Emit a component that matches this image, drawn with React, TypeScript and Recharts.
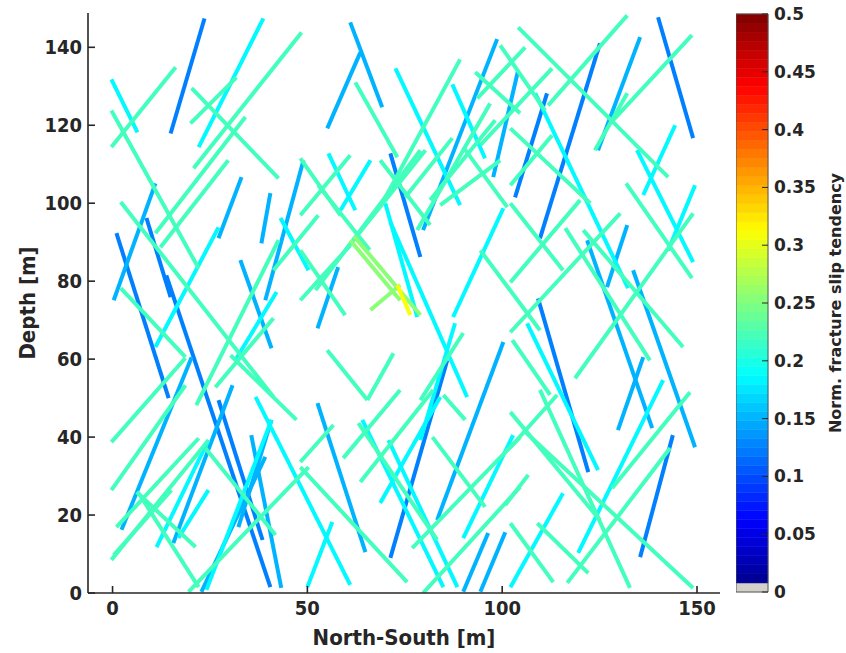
import React from 'react';
import { LineChart, Line, XAxis, YAxis, ComposedChart, ReferenceArea } from 'recharts';

// Fracture traces [x1, y1, x2, y2] in metres (North-South, Depth)
const darkBlueFractures: number[][] = [
  [23.6, 147.4, 14.9, 117.9], [125.1, 141.0, 109.7, 91.0], [111.5, 128.2, 103.3, 101.5],
  [140.0, 147.7, 149.0, 116.7], [8.7, 96.2, 14.9, 75.9], [1.0, 92.3, 14.4, 50.0],
  [13.8, 81.5, 40.5, 1.5], [71.3, 112.8, 79.0, 86.2], [109.2, 75.6, 122.1, 31.0],
  [85.9, 59.7, 71.3, 9.0], [143.8, 40.5, 135.4, 9.2], [27.2, 49.5, 38.5, 13.6],
];
const lightBlueFractures: number[][] = [
  [61.0, 146.4, 69.2, 124.6], [63.6, 138.7, 55.1, 119.2], [98.7, 142.1, 79.7, 93.1],
  [104.1, 134.1, 97.7, 106.7], [135.4, 142.6, 124.6, 113.6], [33.1, 106.7, 27.2, 91.0],
  [11.0, 105.1, 0.3, 75.1], [40.5, 102.6, 38.2, 89.7], [49.0, 111.0, 39.2, 75.1],
  [32.8, 85.4, 40.8, 62.8], [57.9, 83.6, 52.6, 67.9], [100.3, 64.4, 83.3, 18.7],
  [52.6, 48.7, 64.9, 10.5], [90.0, 0.3, 96.4, 15.4], [94.4, 0.3, 100.8, 15.6],
  [121.8, 90.5, 138.5, 42.3], [133.6, 82.8, 149.5, 37.4], [132.1, 94.4, 126.9, 78.5],
  [136.2, 60.5, 129.7, 41.8], [2.3, 16.2, 20.3, 60.5], [15.6, 12.8, 30.8, 53.3],
  [22.8, 0.3, 39.2, 34.9], [35.6, 40.5, 43.3, 1.3], [32.3, 16.9, 40.8, 44.4],
];
const cyanFractures: number[][] = [
  [38.7, 147.4, 22.1, 114.4], [-0.3, 131.8, 6.4, 118.2], [72.6, 134.6, 89.2, 99.5],
  [87.2, 130.5, 95.6, 111.5], [144.4, 120.0, 136.2, 102.1], [134.6, 113.6, 149.0, 84.9],
  [149.5, 104.6, 142.6, 87.9], [108.5, 128.2, 132.3, 78.2], [27.2, 93.8, 11.0, 63.1],
  [43.1, 96.2, 50.3, 82.8], [42.1, 77.2, 31.5, 59.7], [55.4, 112.8, 62.3, 98.2],
  [66.2, 111.0, 58.5, 98.2], [70.0, 100.0, 78.2, 70.8], [71.3, 95.1, 91.0, 50.3],
  [100.3, 98.7, 87.4, 70.8], [87.9, 69.2, 79.0, 39.2], [106.4, 69.2, 124.6, 31.5],
  [141.3, 54.6, 119.5, 10.3], [115.6, 25.6, 102.1, 1.5], [11.3, 11.8, 24.6, 39.2],
  [16.9, 14.1, 24.6, 26.4], [24.1, 0.8, 40.8, 44.4], [36.7, 50.3, 61.0, 2.1],
  [64.1, 44.4, 84.9, 1.5], [70.8, 39.2, 88.5, 1.5], [68.7, 23.1, 84.1, 50.3],
  [90.0, 14.1, 102.8, 40.5], [50.0, 1.5, 56.4, 18.2],
];
const greenFractures: number[][] = [
  [48.5, 143.8, 20.8, 109.0], [16.2, 134.9, -0.3, 114.4], [-0.3, 123.8, 22.1, 83.3],
  [20.3, 129.5, 42.6, 106.4], [20.0, 120.5, 31.8, 132.3], [11.0, 92.3, 34.1, 122.1],
  [12.3, 88.7, 29.7, 111.0], [2.1, 100.3, 41.3, 50.3], [2.1, 78.2, 18.7, 60.5],
  [42.6, 90.5, 21.5, 48.2], [41.3, 70.5, 26.4, 52.8], [41.3, 82.8, 52.8, 96.9],
  [89.2, 136.9, 69.2, 100.0], [104.1, 145.1, 142.6, 106.7], [132.1, 148.2, 111.8, 125.1],
  [148.7, 143.1, 128.5, 121.3], [99.5, 140.5, 111.0, 123.8], [93.1, 133.6, 104.6, 123.1],
  [93.6, 126.9, 105.9, 140.0], [112.8, 134.6, 94.4, 114.9], [96.9, 125.6, 78.2, 93.1],
  [98.2, 121.3, 81.5, 100.8], [87.2, 116.7, 75.1, 101.5], [90.0, 114.4, 101.3, 99.0],
  [132.1, 128.2, 123.8, 113.6], [131.8, 105.1, 148.7, 80.8], [149.0, 97.4, 118.7, 55.1],
  [102.1, 119.2, 122.6, 100.0], [112.8, 117.4, 102.1, 104.6], [116.2, 93.6, 137.9, 59.7],
  [120.8, 93.1, 146.4, 63.1], [102.1, 79.7, 120.0, 100.8], [102.1, 66.9, 130.3, 97.4],
  [102.1, 100.0, 115.6, 82.8], [102.6, 64.9, 112.3, 50.8], [148.2, 51.5, 128.2, 26.9],
  [143.1, 37.2, 116.7, 2.6], [105.4, 41.8, 149.0, 1.3], [109.7, 52.1, 132.8, 1.3],
  [102.1, 46.4, 125.1, 18.7], [114.1, 50.8, 102.1, 37.4], [109.0, 17.9, 122.1, 5.1],
  [102.1, 17.9, 113.1, 2.8], [106.7, 30.3, 100.8, 22.6], [-0.3, 38.7, 18.7, 60.3],
  [-0.3, 26.4, 18.7, 53.3], [1.0, 16.9, 22.1, 39.7], [-0.3, 8.5, 24.6, 39.2],
  [0.3, 9.7, 15.1, 26.4], [6.2, 25.9, 21.3, 11.8], [6.7, 25.6, 22.1, 1.5],
  [23.8, 37.2, 41.8, 14.9], [19.5, 0.3, 50.3, 32.3], [30.3, 61.0, 47.2, 44.4],
  [48.2, 32.3, 75.6, 2.8], [63.1, 43.6, 83.3, 13.6], [82.1, 40.0, 95.6, 22.1],
  [79.7, 0.0, 104.6, 27.2], [59.2, 34.6, 73.8, 52.1], [63.6, 28.5, 82.3, 52.1],
  [76.9, 11.5, 104.6, 40.0], [48.2, 33.6, 56.7, 43.1], [84.9, 50.8, 90.5, 44.4],
  [72.1, 61.5, 65.4, 49.5], [55.1, 62.3, 65.4, 49.5], [48.2, 96.9, 61.0, 112.3],
  [79.0, 113.6, 52.1, 77.7], [48.2, 87.9, 59.7, 71.3],
  [94.4, 87.9, 109.7, 67.4], [90.0, 66.7, 79.0, 49.5], [62.3, 131.0, 73.1, 111.8],
  [48.2, 111.5, 58.5, 96.9], [68.7, 111.0, 81.5, 94.4], [80.3, 113.6, 59.7, 87.9],
  [84.1, 99.5, 99.5, 111.0], [48.2, 75.1, 61.0, 89.2], [52.8, 104.6, 66.0, 88.0],
];
const lightGreenFractures: number[][] = [
  [62.0, 91.5, 79.0, 71.3], [61.0, 90.5, 73.8, 75.1], [73.8, 79.0, 66.2, 72.6],
];
const yellowFractures: number[][] = [
  [73.1, 79.0, 76.4, 71.3],
];

// Normalised slip tendency of each fracture family
const familySlip = [0.125, 0.15, 0.185, 0.22, 0.255, 0.31];
const families = [darkBlueFractures, lightBlueFractures, cyanFractures, greenFractures, lightGreenFractures, yellowFractures];

const xTicks = [0, 50, 100, 150];
const yTicks = [0, 20, 40, 60, 80, 100, 120, 140];
const colorbarTicks = [0, 0.05, 0.1, 0.15, 0.2, 0.25, 0.3, 0.35, 0.4, 0.45, 0.5];
const colorbarMax = 0.5;
const colorbarLevels = 64;

const clamp = (v: number) => Math.max(0, Math.min(1, v));
function jet(value: number): string {
  const t = value / colorbarMax;
  const r = clamp(1.5 - Math.abs(4 * t - 3));
  const g = clamp(1.5 - Math.abs(4 * t - 2));
  const b = clamp(1.5 - Math.abs(4 * t - 1));
  const h = (c: number) => Math.round(c * 255).toString(16).padStart(2, '0');
  return '#' + h(r) + h(g) + h(b);
}

const segments = families.flatMap((fam, fi) =>
  fam.map((s) => ({
    data: [{ x: s[0], y: s[1] }, { x: s[2], y: s[3] }],
    color: jet(familySlip[fi]),
  }))
);

const bands = Array.from({ length: colorbarLevels }, (_, i) => {
  const lo = (i / colorbarLevels) * colorbarMax;
  const hi = ((i + 1) / colorbarLevels) * colorbarMax;
  return { lo, hi, color: i === 0 ? '#d3d0ca' : jet((lo + hi) / 2) };
});

const AX = '#262626';
const axisFamily = "'DejaVu Sans Condensed', 'DejaVu Sans', sans-serif";
const axisTickFont = { fontFamily: axisFamily, fontStretch: 'condensed', fontWeight: 700, fontSize: 20, fill: AX } as any;
const cbTickFont = { fontFamily: 'DejaVu Sans', fontWeight: 700, fontSize: 17, fill: AX };

const YTitle = (props: any) => {
  const vb = props.viewBox || {};
  const cx = vb.x + 27;
  const cy = vb.y + vb.height / 2;
  return (
    <text x={cx} y={cy} transform={`rotate(-90, ${cx}, ${cy})`} textAnchor="middle" dominantBaseline="central"
      style={{ fontFamily: axisFamily, fontStretch: 'condensed', fontWeight: 700, fontSize: 22, fill: AX }}>Depth [m]</text>
  );
};

const XTitle = (props: any) => {
  const vb = props.viewBox || {};
  const cx = vb.x + vb.width / 2;
  const cy = 645;
  return (
    <text x={cx} y={cy} textAnchor="middle"
      style={{ fontFamily: axisFamily, fontStretch: 'condensed', fontWeight: 700, fontSize: 22, fill: AX }}>North-South [m]</text>
  );
};

const CbTitle = (props: any) => {
  const vb = props.viewBox || {};
  const cx = vb.x + 67;
  const cy = vb.y + vb.height / 2;
  return (
    <text x={cx} y={cy} transform={`rotate(-90, ${cx}, ${cy})`} textAnchor="middle" dominantBaseline="central"
      style={{ fontFamily: 'DejaVu Sans', fontWeight: 700, fontSize: 16, fill: AX }}>Norm. fracture slip tendency</text>
  );
};

export default function App() {
  return (
    <div style={{ position: 'absolute', left: 0, top: 0, width: 846, height: 653, background: '#fff' }}>
      <div style={{ position: 'absolute', left: 0, top: 0 }}>
        <LineChart width={846} height={653} margin={{ top: 13, right: 126, bottom: 2, left: 0 }}>
          <XAxis
            type="number" dataKey="x" domain={[-6.3, 155.9]} allowDataOverflow ticks={xTicks}
            height={58} tickSize={-7} tickMargin={15}
            axisLine={{ stroke: AX, strokeWidth: 1.6 }} tickLine={{ stroke: AX, strokeWidth: 1.6 }}
            tick={axisTickFont} label={<XTitle />}
          />
          <YAxis
            type="number" dataKey="y" domain={[0, 148.8]} allowDataOverflow ticks={yTicks}
            width={88} tickSize={-7} tickMargin={13}
            axisLine={{ stroke: AX, strokeWidth: 1.6 }} tickLine={{ stroke: AX, strokeWidth: 1.6 }}
            tick={axisTickFont} label={<YTitle />}
          />
          {segments.map((seg, i) => (
            <Line key={i} data={seg.data} dataKey="y" type="linear" stroke={seg.color} strokeWidth={4}
              strokeLinecap="butt" dot={false} activeDot={false} isAnimationActive={false} />
          ))}
        </LineChart>
      </div>
      <div style={{ position: 'absolute', left: 736, top: 0 }}>
        <ComposedChart width={110} height={653} data={[{ x: 0 }, { x: 1 }]} margin={{ top: 14, right: 0, bottom: 61, left: 0 }}>
          <XAxis type="number" dataKey="x" domain={[0, 1]} hide allowDataOverflow />
          <YAxis
            type="number" orientation="right" domain={[0, colorbarMax]} allowDataOverflow ticks={colorbarTicks}
            width={78} tickSize={-6} tickMargin={12} axisLine={false}
            tickLine={{ stroke: AX, strokeWidth: 1 }} tick={cbTickFont} label={<CbTitle />}
          />
          {bands.map((b, i) => (
            <ReferenceArea key={i} x1={0} x2={1} y1={b.lo} y2={b.hi} fill={b.color} fillOpacity={1}
              stroke={b.color} strokeWidth={0.5} ifOverflow="visible" />
          ))}
          <ReferenceArea x1={0} x2={1} y1={0} y2={colorbarMax} fill="none" stroke="#555" strokeWidth={1} ifOverflow="visible" />
        </ComposedChart>
      </div>
    </div>
  );
}
